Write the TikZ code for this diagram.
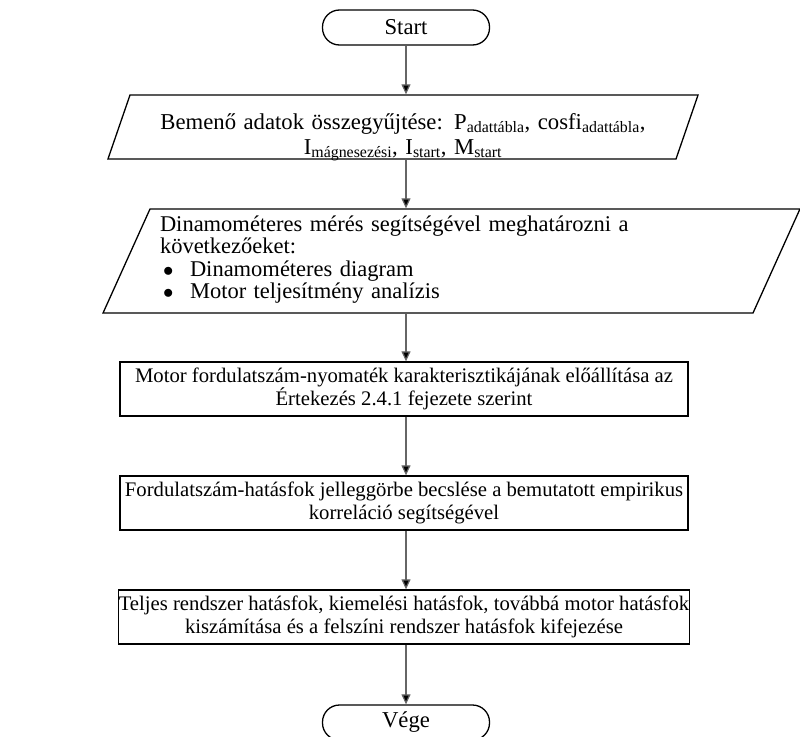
\documentclass[tikz,border=0pt]{standalone}
\usepackage{fontspec}
\setmainfont{Liberation Serif}
\usetikzlibrary{arrows.meta,shapes.geometric}
\tikzset{>=Triangle}
\tikzset{
  term/.style={draw,line width=1.3pt,rounded corners=17pt,minimum width=167pt,minimum height=35pt,inner sep=0pt},
  io/.style={draw,line width=1.3pt,trapezium,trapezium stretches body,trapezium left angle=#1,trapezium right angle=180-#1,inner ysep=0pt},
  proc/.style={draw,line width=1.3pt,minimum width=568pt,minimum height=54pt,inner sep=0pt,align=center,font=\fontsize{20.7}{23}\selectfont},
  flow/.style={line width=1.2pt,draw=black!60,arrows={-Triangle[width=9pt,length=10pt,fill=black]}}
}

\begin{document}
\begin{tikzpicture}[x=1pt,y=-1pt,font=\fontsize{22.7}{25}\selectfont]
\useasboundingbox (0,0) rectangle (800,736);
\node[term] (start) at (406,27.5) {Start};
\node[io=71,text height=34pt,text depth=30pt,text width=500pt,inner xsep=23pt,align=center] (adat) at (403,127)
  {Bemenő adatok összegyűjtése: P\textsubscript{adattábla}, cosfi\textsubscript{adattábla},\\
   I\textsubscript{mágnesezési}, I\textsubscript{start}, M\textsubscript{start}};
\node[io=65.7,text height=22pt,text depth=82pt,text width=583pt,inner xsep=10pt,align=left,font=\fontsize{22.5}{22.5}\selectfont] (meres) at (451.5,261)
  {Dinamométeres mérés segítségével meghatározni a\\
   következőeket:\\
   \hspace*{3pt}\makebox[27pt][l]{$\bullet$}Dinamométeres diagram\\
   \hspace*{3pt}\makebox[27pt][l]{$\bullet$}Motor teljesítmény analízis};
\node[proc] (kar) at (404,389) {Motor fordulatszám-nyomaték karakterisztikájának előállítása az\\ Értekezés 2.4.1 fejezete szerint};
\node[proc] (becs) at (404,503) {Fordulatszám-hatásfok jelleggörbe becslése a bemutatott empirikus\\ korreláció segítségével};
\node[proc] (hat) at (404,617) {Teljes rendszer hatásfok, kiemelési hatásfok, továbbá motor hatásfok\\ kiszámítása és a felszíni rendszer hatásfok kifejezése};
\node[term] (vege) at (406,722.5) {Vége};
% connectors
\draw[flow] (start.south) -- (start.south |- adat.north);
\draw[flow] (start.south |- adat.south) -- (start.south |- meres.north);
\draw[flow] (start.south |- meres.south) -- (start.south |- kar.north);
\draw[flow] (start.south |- kar.south) -- (start.south |- becs.north);
\draw[flow] (start.south |- becs.south) -- (start.south |- hat.north);
\draw[flow] (start.south |- hat.south) -- (vege.north);
\end{tikzpicture}
\end{document}
